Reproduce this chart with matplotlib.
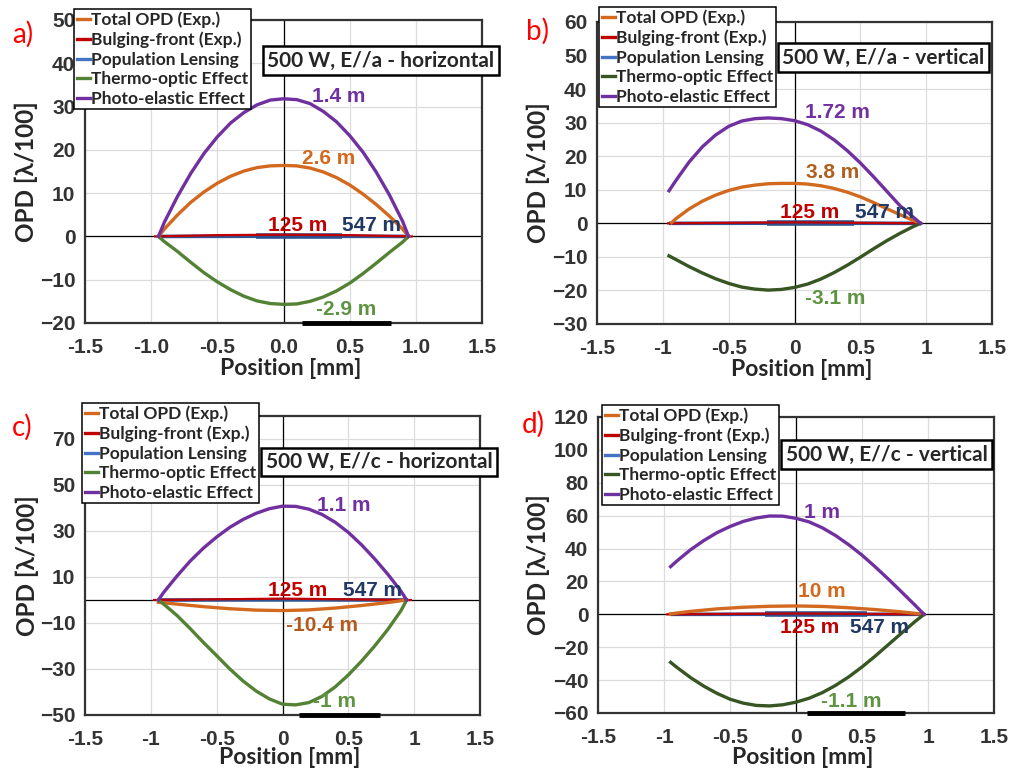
import matplotlib
matplotlib.use("Agg")
import matplotlib.pyplot as plt
from matplotlib.lines import Line2D

W, H = 1010, 772

# ---------------- data ----------------
series_names = ["Total OPD (Exp.)", "Bulging-front (Exp.)", "Population Lensing",
                "Thermo-optic Effect", "Photo-elastic Effect"]

# panel a) 500 W, E//a - horizontal
a_x = [-0.945, -0.9, -0.8, -0.7, -0.6, -0.5, -0.4, -0.3, -0.2, -0.1, 0.0,
       0.1, 0.2, 0.3, 0.4, 0.5, 0.6, 0.7, 0.8, 0.9, 0.945]
a_photo = [0, 3.3, 9.3, 14.6, 19.2, 23.0, 26.2, 28.6, 30.4, 31.5, 31.8,
           31.6, 30.7, 28.9, 26.5, 23.3, 19.5, 14.9, 9.6, 3.5, 0]
a_total = [0, 1.7, 5.0, 7.9, 10.3, 12.3, 13.9, 15.1, 15.9, 16.3, 16.4,
           16.3, 15.8, 14.9, 13.6, 11.9, 9.8, 7.4, 4.7, 1.7, 0]
a_thermo = [0, -1.2, -3.5, -6.0, -8.4, -10.5, -12.3, -13.8, -14.9, -15.5, -15.7,
            -15.6, -15.0, -14.0, -12.6, -10.8, -8.6, -6.2, -3.7, -1.3, 0]
a_bulge_x = [-0.97, -0.5, 0.0, 0.5, 0.97]
a_bulge = [0, 0.3, 0.4, 0.3, 0]
a_pop_x = [-0.945, 0.0, 0.945]
a_pop = [0, 0.05, 0]

# panel b) 500 W, E//a - vertical
b_x = [-0.953, -0.9, -0.8, -0.7, -0.6, -0.5, -0.4, -0.3, -0.2, -0.1, 0.0,
       0.1, 0.2, 0.3, 0.4, 0.5, 0.6, 0.7, 0.8, 0.9, 0.958]
b_photo = [9.7, 12.8, 18.3, 22.8, 26.3, 28.9, 30.5, 31.2, 31.4, 31.2, 30.6,
           29.4, 27.5, 24.9, 21.7, 18.0, 13.9, 9.6, 5.3, 1.9, 0]
b_thermo = [-9.7, -10.8, -12.9, -14.8, -16.5, -17.9, -19.0, -19.6, -19.9, -19.7, -19.1,
            -18.1, -16.6, -14.7, -12.5, -10.1, -7.6, -5.2, -3.0, -1.0, 0]
b_total_x = [-0.933, -0.9, -0.8, -0.7, -0.6, -0.5, -0.4, -0.3, -0.2, -0.1, 0.0,
             0.1, 0.2, 0.3, 0.4, 0.5, 0.6, 0.7, 0.8, 0.9, 0.955]
b_total = [0.2, 1.4, 4.3, 6.6, 8.4, 9.8, 10.8, 11.4, 11.8, 11.9, 11.9,
           11.7, 11.2, 10.4, 9.3, 7.9, 6.2, 4.4, 2.6, 0.9, 0]
b_bulge_x = [-0.96, 0.0, 0.96]
b_bulge = [0, 0.3, 0]
b_pop_x = [-0.953, 0.0, 0.958]
b_pop = [0, 0.05, 0]

# panel c) 500 W, E//c - horizontal
c_x = [-0.943, -0.9, -0.8, -0.7, -0.6, -0.5, -0.4, -0.3, -0.2, -0.1, 0.0,
       0.1, 0.2, 0.3, 0.4, 0.5, 0.6, 0.7, 0.8, 0.9, 0.943]
c_photo = [0, 3.5, 10.5, 17.0, 22.6, 27.4, 31.6, 35.0, 37.7, 39.7, 40.8,
           40.7, 39.5, 37.2, 33.8, 29.4, 24.0, 17.9, 11.2, 3.8, 0]
c_thermo = [0, -1.9, -6.8, -12.5, -18.5, -24.2, -30.0, -35.2, -39.6, -43.0, -45.3,
            -45.6, -44.6, -41.9, -37.8, -32.6, -26.6, -20.0, -12.8, -4.6, 0]
c_total_x = [-0.943, -0.8, -0.6, -0.4, -0.2, 0.0, 0.2, 0.4, 0.6, 0.8, 0.943]
c_total = [-1.0, -1.8, -2.9, -3.8, -4.4, -4.6, -4.3, -3.5, -2.4, -1.1, 0]
c_bulge_x = [-0.975, 0.0, 0.975]
c_bulge = [0, 0.6, 0]
c_pop_x = [-0.943, 0.0, 0.943]
c_pop = [0, 0.05, 0]

# panel d) 500 W, E//c - vertical
d_x = [-0.95, -0.9, -0.8, -0.7, -0.6, -0.5, -0.4, -0.3, -0.2, -0.1, 0.0,
       0.1, 0.2, 0.3, 0.4, 0.5, 0.6, 0.7, 0.8, 0.9, 0.97]
d_photo = [29.0, 32.6, 39.2, 44.8, 49.6, 53.4, 56.5, 58.6, 59.8, 59.7, 58.4,
           56.2, 52.6, 47.9, 42.3, 36.0, 28.9, 21.4, 13.6, 5.7, 0]
d_thermo = [-29.2, -32.4, -38.4, -43.6, -48.0, -51.6, -54.0, -55.4, -55.7, -55.0, -53.4,
            -51.0, -47.6, -43.2, -38.0, -32.0, -25.4, -18.4, -11.4, -4.5, 0]
d_total_x = [-0.95, -0.8, -0.6, -0.4, -0.2, 0.0, 0.2, 0.4, 0.6, 0.8, 0.97]
d_total = [0.3, 1.8, 3.3, 4.3, 4.9, 5.1, 4.8, 4.0, 2.9, 1.5, 0]
d_bulge_x = [-0.975, 0.0, 0.975]
d_bulge = [0, 0.5, 0]
d_pop_x = [-0.95, 0.0, 0.97]
d_pop = [0, 0.05, 0]

# focal-length annotations: (text, x, y, series index)
a_notes = [("1.4 m", 0.215, 32.3, 4), ("2.6 m", 0.14, 18.0, 0), ("125 m", -0.12, 2.5, 1),
           ("547 m", 0.44, 2.5, 2), ("-2.9 m", 0.245, -16.9, 3)]
b_notes = [("1.72 m", 0.08, 32.9, 4), ("3.8 m", 0.085, 15.1, 0), ("125 m", -0.11, 3.2, 1),
           ("547 m", 0.46, 3.2, 2), ("-3.1 m", 0.08, -22.3, 3)]
c_notes = [("1.1 m", 0.262, 41.3, 4), ("-10.4 m", 0.03, -11.3, 0), ("125 m", -0.11, 4.3, 1),
           ("547 m", 0.46, 4.3, 2), ("-1 m", 0.23, -44.3, 3)]
d_notes = [("1 m", 0.06, 61.8, 4), ("10 m", 0.015, 13.7, 0), ("125 m", -0.12, -7.9, 1),
           ("547 m", 0.41, -7.9, 2), ("-1.1 m", 0.19, -53.2, 3)]

titles = ["500 W, E//a - horizontal", "500 W, E//a - vertical",
          "500 W, E//c - horizontal", "500 W, E//c - vertical"]
panel_tags = ["a)", "b)", "c)", "d)"]

x_ticks = [-1.5, -1.0, -0.5, 0.0, 0.5, 1.0, 1.5]
x_labels_a = ["-1.5", "-1.0", "-0.5", "0.0", "0.5", "1.0", "1.5"]
x_labels_bcd = ["-1.5", "-1", "-0.5", "0", "0.5", "1", "1.5"]
a_yticks = [-20, -10, 0, 10, 20, 30, 40, 50]
b_yticks = [-30, -20, -10, 0, 10, 20, 30, 40, 50, 60]
c_yticks = [-50, -30, -10, 10, 30, 50, 70]
d_yticks = [-60, -40, -20, 0, 20, 40, 60, 80, 100, 120]
ylims = [(-20, 50), (-30, 60), (-50, 80), (-60, 120)]

# thicker blue stretch on the population-lensing line and black strip under the axis
pop_bold = [(-0.21, 0.44), (-0.21, 0.45), None, (-0.235, 0.535)]
base_strip = [(0.14, 0.81), None, (0.125, 0.74), (0.083, 0.826)]

# ---------------- styling ----------------
orange = "#D2691E"
red = "#C00000"
blue = "#2F5597"
green_light = "#548235"
green_dark = "#375623"
purple = "#7030A0"
tick_col = "#333333"
label_font = "Liberation Sans"
cal_font = "Lato"

fig = plt.figure(figsize=(W / 100, H / 100), dpi=100)
fig.patch.set_facecolor("white")

# axes boxes in pixels: (left, top, right, bottom)
boxes = [(85, 20, 482, 323), (597, 22, 992, 324), (85, 416, 480, 715), (598, 417, 994, 713)]
legend_pos = [(74, 9), (599, 7), (82, 403), (602, 405)]
title_pos = [(381, 60.5), (883.5, 57.5), (379, 462), (886.5, 454.5)]
tag_pos = [(12, 34), (526, 31), (12, 427), (522, 424)]
ylab_x = [26, 538, 27, 538]
xlab_y = [369, 370, 758, 757]

panels = [
    dict(total=(a_x, a_total), photo=(a_x, a_photo), thermo=(a_x, a_thermo),
         bulge=(a_bulge_x, a_bulge), pop=(a_pop_x, a_pop), notes=a_notes,
         yticks=a_yticks, xlabels=x_labels_a, green=green_light,
         note_cols=["#D2691E", red, "#1F3864", "#5E9441", purple]),
    dict(total=(b_total_x, b_total), photo=(b_x, b_photo), thermo=(b_x, b_thermo),
         bulge=(b_bulge_x, b_bulge), pop=(b_pop_x, b_pop), notes=b_notes,
         yticks=b_yticks, xlabels=x_labels_bcd, green=green_dark,
         note_cols=["#B0601E", red, "#1F3864", "#5E9441", purple]),
    dict(total=(c_total_x, c_total), photo=(c_x, c_photo), thermo=(c_x, c_thermo),
         bulge=(c_bulge_x, c_bulge), pop=(c_pop_x, c_pop), notes=c_notes,
         yticks=c_yticks, xlabels=x_labels_bcd, green=green_light,
         note_cols=["#B35A1F", red, "#1F3864", "#5E9441", purple]),
    dict(total=(d_total_x, d_total), photo=(d_x, d_photo), thermo=(d_x, d_thermo),
         bulge=(d_bulge_x, d_bulge), pop=(d_pop_x, d_pop), notes=d_notes,
         yticks=d_yticks, xlabels=x_labels_bcd, green=green_dark,
         note_cols=["#D2691E", red, "#1F3864", "#5E9441", purple]),
]

for i, p in enumerate(panels):
    l, t, r, b = boxes[i]
    ax = fig.add_axes([l / W, 1 - b / H, (r - l) / W, (b - t) / H])
    ax.set_xlim(-1.5, 1.5)
    ax.set_ylim(*ylims[i])
    ax.set_xticks(x_ticks)
    ax.set_xticklabels(p["xlabels"])
    ax.set_yticks(p["yticks"])
    ax.grid(True, color="#dcdcdc", lw=0.9)
    ax.set_axisbelow(True)
    ax.tick_params(length=0, pad=7, labelsize=15, labelcolor=tick_col)
    ax.tick_params(axis="x", pad=11)
    for lab in ax.get_xticklabels() + ax.get_yticklabels():
        lab.set_fontfamily(label_font)
        lab.set_fontweight("bold")
    for s in ax.spines.values():
        s.set_color("#333333")
        s.set_linewidth(1.6)
    ax.axhline(0, color="black", lw=0.9, zorder=1.5)
    ax.axvline(0, color="black", lw=0.9, zorder=1.5)

    ax.plot(*p["pop"], color=blue, lw=2.6, zorder=3, solid_capstyle="butt")
    if pop_bold[i]:
        ax.plot(list(pop_bold[i]), [0, 0], color="#2B4F8F", lw=4.0, zorder=3,
                solid_capstyle="butt")
    ax.plot(*p["bulge"], color=red, lw=1.6, zorder=3.2)
    ax.plot(*p["total"], color=orange, lw=2.4, zorder=4)
    ax.plot(*p["thermo"], color=p["green"], lw=2.4, zorder=4)
    ax.plot(*p["photo"], color=purple, lw=2.4, zorder=4)

    if base_strip[i]:
        ax.plot(list(base_strip[i]), [ylims[i][0]] * 2, color="black", lw=3.5,
                clip_on=False, zorder=6, solid_capstyle="butt")

    for (txt, x, y, k) in p["notes"]:
        ax.text(x, y, txt, color=p["note_cols"][k], fontsize=15, fontweight="bold",
                family=label_font, ha="left", va="center", zorder=7)

    # axis labels
    fig.text((l + r) / 2 / W + 0.007, 1 - xlab_y[i] / H, "Position [mm]", ha="center",
             va="center", fontsize=16.5, fontweight="bold", family=cal_font, color="#262626")
    fig.text(ylab_x[i] / W, 1 - (t + b) / 2 / H, "OPD [λ/100]", rotation=90, ha="center",
             va="center", fontsize=17.5, fontweight="bold", family=cal_font, color="#262626")

    # legend
    handle_cols = [orange, red, "#4472C4", p["green"], purple]
    handles = [Line2D([], [], color=c, lw=2.4) for c in handle_cols]
    lx, ly = legend_pos[i]
    leg = fig.legend(handles, series_names, loc="upper left",
                     bbox_to_anchor=(lx / W, 1 - ly / H), bbox_transform=fig.transFigure,
                     prop=dict(family=cal_font, weight="bold", size=12.5),
                     handlelength=0.75, handletextpad=0.1, labelspacing=0.2,
                     borderpad=0.15, borderaxespad=0, frameon=True, fancybox=False,
                     framealpha=1, edgecolor="black", labelcolor="#262626")
    leg.get_frame().set_linewidth(1.1)
    leg.set_zorder(10)

    # condition box
    tx, ty = title_pos[i]
    fig.text(tx / W, 1 - ty / H, titles[i], ha="center", va="center", fontsize=15,
             fontweight="bold", family=cal_font, color="#262626", zorder=11,
             bbox=dict(boxstyle="square,pad=0.2", fc="white", ec="black", lw=1.8))

    gx, gy = tag_pos[i]
    fig.text(gx / W, 1 - gy / H, panel_tags[i], ha="left", va="center", fontsize=20,
             family=cal_font, color="#FF0000", zorder=12)

fig.savefig("out.png", dpi=100, facecolor="white")
